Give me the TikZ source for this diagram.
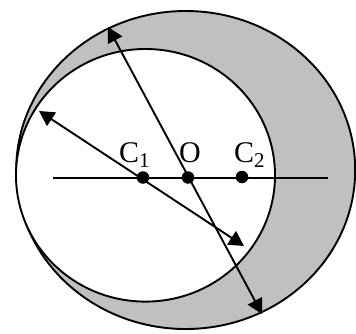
\documentclass[tikz,border=0pt]{standalone}
\usepackage{fontspec}
\setmainfont{Liberation Serif}
\usetikzlibrary{arrows.meta}
\begin{document}
\begin{tikzpicture}[x=1pt,y=-1pt,
  thick line/.style={line width=1.9pt},
  arr/.style={thick line,{Triangle[length=15pt,width=16pt]}-{Triangle[length=15pt,width=16pt]}},
  dotmark/.style={circle,fill=black,inner sep=0pt,minimum size=12.5pt},
  lbl/.style={inner sep=0pt,font=\fontsize{30}{34}\selectfont}]
\useasboundingbox (0,0) rectangle (356,333);
\definecolor{shade}{RGB}{192,192,192}
\draw[thick line,fill=shade] (185.7,170) ellipse [x radius=169.5, y radius=159];
\draw[thick line,fill=white] (145.5,175.3) ellipse [x radius=129.5, y radius=126.3];
\coordinate (L) at (53,178);
\coordinate (R) at (328,178);
\draw[thick line] (L) -- (R);
\node[dotmark] (C1) at (143,177.5) {};
\node[dotmark] (O) at (188,177.5) {};
\node[dotmark] (C2) at (242,177) {};
\coordinate (T1) at (108,27);
\coordinate (T2) at (262,314);
\draw[arr] (T1) -- (T2);
\coordinate (S1) at (39,111);
\coordinate (S2) at (244,246);
\draw[arr] (S1) -- (S2);
\node[lbl,anchor=base west] (lc1) at (119,162) {C\textsubscript{1}};
\node[lbl,anchor=base] (lo) at (190,162) {O};
\node[lbl,anchor=base west] (lc2) at (234,162) {C\textsubscript{2}};
\end{tikzpicture}
\end{document}
